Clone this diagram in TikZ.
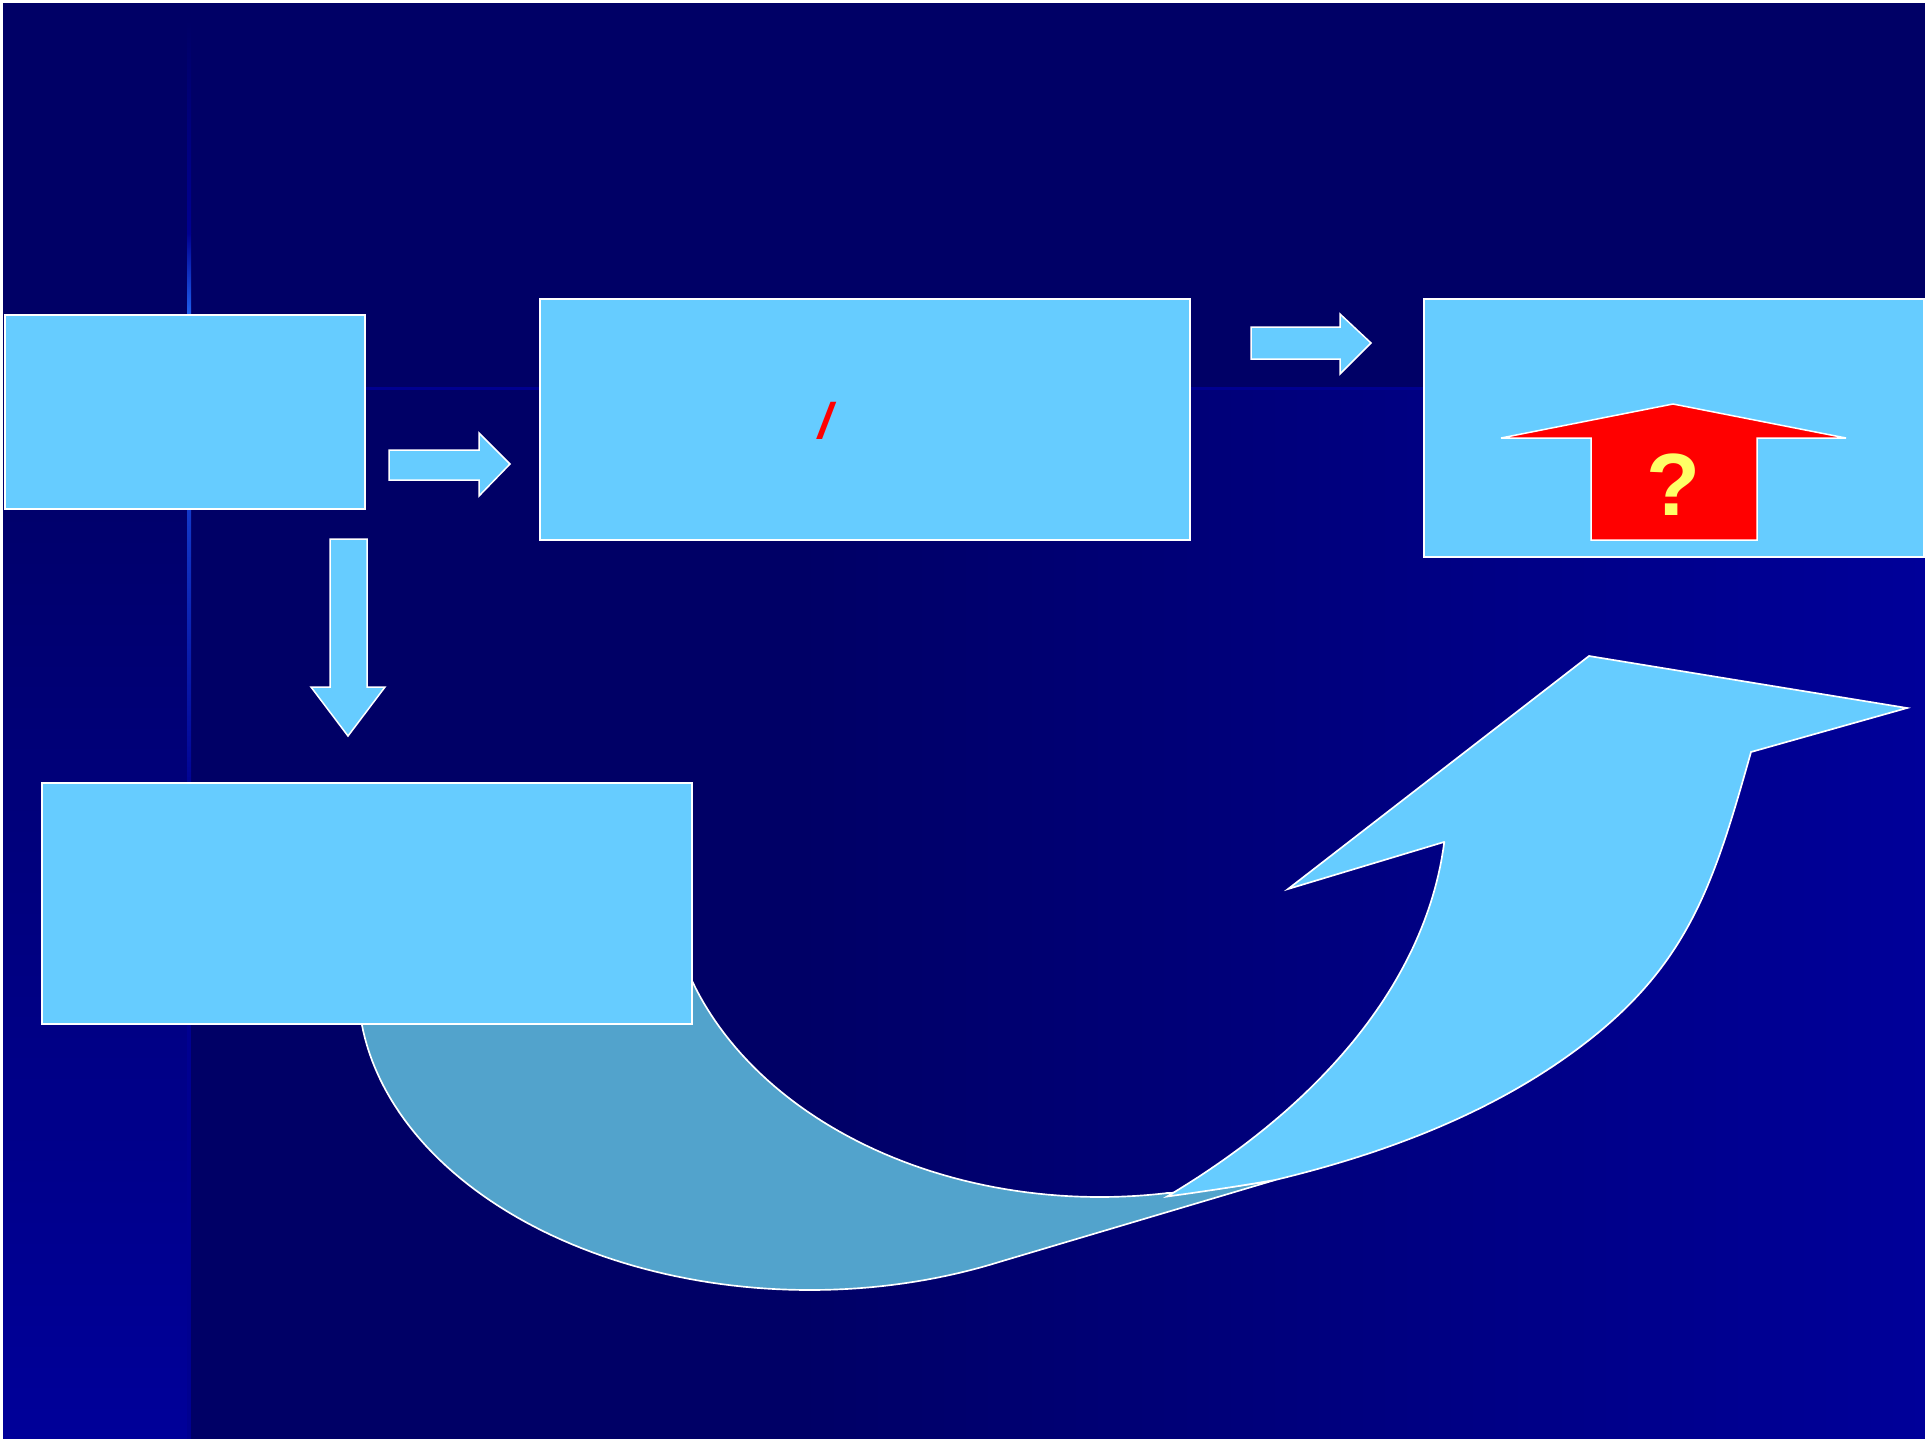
\documentclass[tikz,border=0pt]{standalone}
\usepackage{fontspec}
\setmainfont{Liberation Sans}
\definecolor{bgdark}{HTML}{000066}
\definecolor{bgblue}{HTML}{000099}
\definecolor{lineblue}{HTML}{000090}
\definecolor{brightline}{HTML}{1F5FEE}
\definecolor{lblue}{HTML}{66CCFF}
\definecolor{dblue}{HTML}{52A3CC}
\definecolor{qyellow}{HTML}{FFFF66}
\tikzset{
  boxnode/.style={fill=lblue, draw=white, line width=0.6pt, inner sep=0pt, anchor=north west},
  blockarrow/.style={fill=lblue, draw=white, line width=0.45pt, line join=miter},
  lightpart/.style={fill=lblue, draw=white, line width=0.5pt},
  darkpart/.style={fill=dblue, draw=white, line width=0.5pt},
  redarrow/.style={fill=red, draw=white, line width=0.45pt},
}
\begin{document}
\begin{tikzpicture}[x=0.3pt,y=-0.3pt]
\useasboundingbox (0,0) rectangle (1930,1441);
% background
\fill[bgdark] (3,3) rectangle (1925,1439);
\shade[left color=bgdark, right color=bgblue] (800,388) rectangle (1925,1439);
\shade[top color=bgdark, bottom color=bgblue] (3,388) rectangle (188,1439);
\fill[lineblue] (188,387) rectangle (1925,390);
% decorative vertical line
\shade[top color=bgdark, bottom color=lineblue] (187,20) rectangle (191,233);
\shade[top color=lineblue, bottom color=brightline] (187,233) rectangle (191,314);
\shade[top color=brightline!60!lineblue, bottom color=lineblue] (187,508) rectangle (191,800);
\fill[lineblue] (187,800) rectangle (191,1439);
% white frame
\fill[white] (0,0) rectangle (1930,3);
\fill[white] (0,0) rectangle (3,1441);
\fill[white] (0,1439) rectangle (1930,1441);
\fill[white] (1925,0) rectangle (1930,1441);

% curved arrow: back (dark) part
\path[darkpart] plot[domain=180:65, samples=80] ({810+452*cos(\x)},{985+305*sin(\x)})
  -- (1275,1180)
  .. controls (1240,1186) and (1200,1192) .. (1167,1193)
  -- plot[domain=81.1:166, samples=60] ({1100+433*cos(\x)},{872+325*sin(\x)})
  -- cycle;
% curved arrow: front (light) part with head
\path[lightpart] (1751,752) -- (1907,708) -- (1589,656) -- (1288,889) -- (1444,842)
  -- plot[domain=4.2:43.6, samples=60] ({432+1015*cos(\x)},{800+575*sin(\x)})
  .. controls (1200,1192) and (1240,1186) .. (1275,1180)
  .. controls (1383,1154) and (1491,1114) .. (1580,1047)
  .. controls (1689,965) and (1714,883) .. (1751,752)
  -- cycle;

% boxes
\node[boxnode, minimum width=108pt, minimum height=58.2pt] (b1) at (4,314) {};
\node[boxnode, minimum width=195pt, minimum height=72.3pt] (b2) at (539,298) {};
\node[boxnode, minimum width=150pt, minimum height=77.4pt] (b3) at (1423,298) {};
\node[boxnode, minimum width=195pt, minimum height=72.3pt] (b4) at (41,782) {};

% block arrows
\path[blockarrow] (389,450) -- (479,450) -- (479,433) -- (510,464) -- (479,496) -- (479,480) -- (389,480) -- cycle;
\path[blockarrow] (1251,327) -- (1340,327) -- (1340,314) -- (1371,343) -- (1340,374) -- (1340,359) -- (1251,359) -- cycle;
\path[blockarrow] (330,539) -- (367,539) -- (367,687) -- (385,687) -- (348,736) -- (311,687) -- (330,687) -- cycle;

% red arrow with question mark
\path[redarrow] (1591,540) -- (1591,438) -- (1501,438) -- (1673,404) -- (1846,438) -- (1757,438) -- (1757,540) -- cycle;
\node[text=qyellow, inner sep=0pt, anchor=base, font=\fontsize{26.5}{28}\selectfont\bfseries] (q) at (1673,515) {?};

% red slash
\node[text=red, inner sep=0pt, font=\fontsize{15}{16}\selectfont\bfseries\itshape] (sl) at (825.5,420.5) {/};
\end{tikzpicture}
\end{document}
